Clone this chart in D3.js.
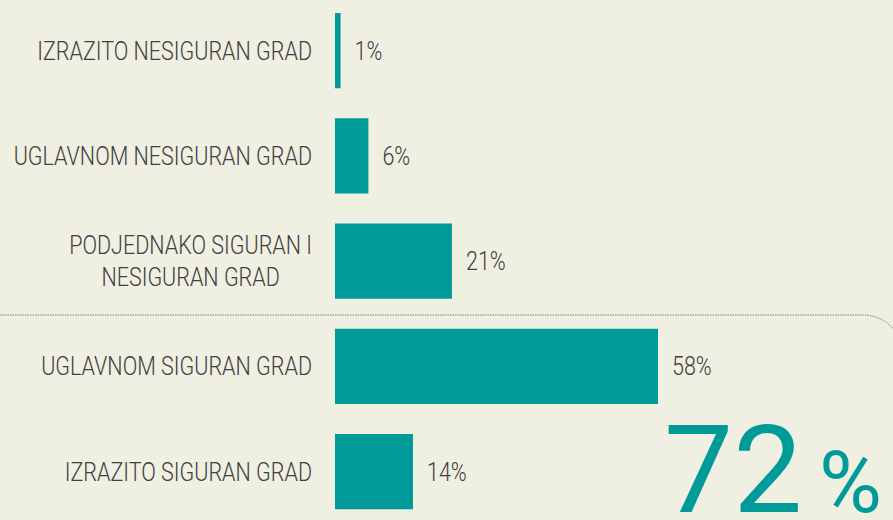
<!DOCTYPE html>
<html>
<head>
<meta charset="utf-8">
<script src="https://cdn.jsdelivr.net/npm/d3@7"></script>
<style>
  html, body { margin: 0; padding: 0; background: #efefe2; }
  svg { display: block; }
  .lbl { font-family: Roboto, "Liberation Sans", sans-serif; font-weight: 300; fill: #404040; }
</style>
</head>
<body>
<svg id="chart" width="893" height="520"></svg>
<script>
// odgovori, redom kako su prikazani
const categories = [
  ['IZRAZITO NESIGURAN GRAD'],
  ['UGLAVNOM NESIGURAN GRAD'],
  ['PODJEDNAKO SIGURAN I', 'NESIGURAN GRAD'],
  ['UGLAVNOM SIGURAN GRAD'],
  ['IZRAZITO SIGURAN GRAD']
]
const values = [1, 6, 21, 58, 14]
const safeTotal = 72

const W = 893, H = 520
const margin = {top: 13, left: 335}
const teal = '#009b98'
const fontSize = 25

const svg = d3.select('#chart')

const x = d3.scaleLinear().domain([0, 58]).range([margin.left, margin.left + 323])
const y = d3.scaleBand()
  .domain(d3.range(values.length))
  .range([margin.top - 15, margin.top - 15 + 105.25 * values.length])
  .paddingInner(0.285)
  .paddingOuter(0.1425)

// uski font: mjeri sirinu prvog natpisa i stisni vodoravno
const probe = svg.append('text').attr('class', 'lbl').attr('font-size', fontSize).text(categories[0][0])
const sx = 275 / probe.node().getComputedTextLength()
probe.remove()

// razdjelnik izmedu nesigurnih i sigurnih
const sepY = 315, r = 40, cornerX = 863
svg.append('path')
  .attr('d', `M0,${sepY} H${cornerX} A${r},${r} 0 0 1 ${cornerX + r},${sepY + r} V${H}`)
  .attr('fill', 'none')
  .attr('stroke', '#5f8f8b')
  .attr('stroke-width', 1)
  .attr('stroke-dasharray', '1.5,1')

svg.selectAll('rect.bar')
  .data(values)
  .enter().append('rect')
  .attr('class', 'bar')
  .attr('x', x(0))
  .attr('y', (d, i) => y(i))
  .attr('width', d => x(d) - x(0))
  .attr('height', y.bandwidth())
  .attr('fill', teal)

svg.selectAll('g.val')
  .data(values)
  .enter().append('g')
  .attr('class', 'val')
  .attr('transform', (d, i) => `translate(${x(d) + 14},${y(i) + y.bandwidth() / 2}) scale(${sx},1)`)
  .append('text')
  .attr('class', 'lbl')
  .attr('dy', '0.36em')
  .attr('font-size', fontSize)
  .text(d => d + '%')

const labelRight = 312
categories.forEach((lines, i) => {
  const cy = y(i) + y.bandwidth() / 2
  const g = svg.append('g').attr('transform', `translate(${labelRight},${cy}) scale(${sx},1)`)
  const t = g.append('text')
    .attr('class', 'lbl cat')
    .attr('font-size', fontSize)
  const lh = 31.5
  lines.forEach((s, j) => {
    t.append('tspan')
      .attr('x', 0)
      .attr('y', (j - (lines.length - 1) / 2) * lh)
      .attr('dy', '0.36em')
      .text(s)
  })
  if (lines.length === 1) {
    t.attr('text-anchor', 'end')
  } else {
    // vise redova: centrirano, najduzi red zavrsava na labelRight
    let maxW = 0
    t.selectAll('tspan').each(function () { maxW = Math.max(maxW, this.getComputedTextLength()) })
    t.attr('text-anchor', 'middle')
    t.selectAll('tspan').attr('x', -maxW / 2)
  }
})

// ukupno sigurno
const big = svg.append('g')
  .attr('fill', teal)
  .attr('font-family', 'Roboto, "Liberation Sans", sans-serif')
  .attr('font-weight', 400)
big.append('text')
  .attr('x', 664)
  .attr('y', 512)
  .attr('font-size', 123)
  .text(safeTotal)
big.append('text')
  .attr('x', 819)
  .attr('y', 512)
  .attr('font-size', 86)
  .text('%')
</script>
</body>
</html>
